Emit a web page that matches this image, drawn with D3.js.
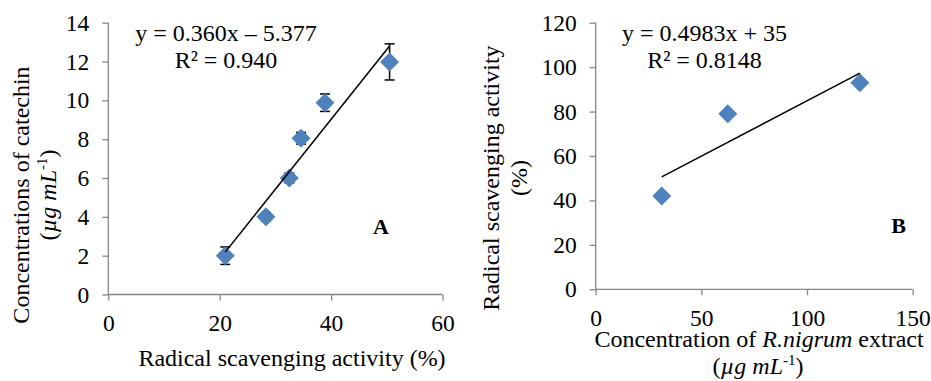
<!DOCTYPE html>
<html>
<head>
<meta charset="utf-8">
<script src="https://cdn.jsdelivr.net/npm/d3@7"></script>
<style>
  html, body { margin: 0; padding: 0; background: #fff; }
  svg { display: block; }
</style>
</head>
<body>
<svg id="chart" width="931" height="381"></svg>
<script>
// ---------- Data ----------
// Panel A: catechin standard
const catechinActivity = [21.0, 28.3, 32.5, 34.6, 38.9, 50.5];   // x: radical scavenging activity (%)
const catechinConc     = [2, 4, 6, 8.05, 9.88, 11.98];            // y: µg/mL
const catechinErr      = [0.45, 0.22, 0.25, 0.3, 0.45, 0.93];
const trendA = { slope: 0.360, intercept: -5.377 };
const trendAXRange = [21.0, 50.5];
const xTicksA = [0, 20, 40, 60];
const yTicksA = [0, 2, 4, 6, 8, 10, 12, 14];

// Panel B: R. nigrum extract
const extractConc     = [31.25, 62.5, 125];
const extractActivity = [42, 79, 93];
const trendB = { slope: 0.4983, intercept: 35 };
const trendBXRange = [31.25, 125];
const xTicksB = [0, 50, 100, 150];
const yTicksB = [0, 20, 40, 60, 80, 100, 120];

const blue = "#4F81BD";
const FONT = "'Liberation Serif'";
const FS = 24;       // titles and equations
const FS_TICK = 23.5;
const svg = d3.select("#chart");

function diamond(g, x, y, half) {
  g.append("path")
    .attr("d", `M${x},${y - half}L${x + half},${y}L${x},${y + half}L${x - half},${y}Z`)
    .attr("fill", blue);
}

function drawAxes(x, y, xt, yt) {
  const gx = svg.append("g")
    .attr("transform", `translate(0,${y.range()[0]})`)
    .call(d3.axisBottom(x).tickValues(xt).tickSize(6).tickSizeOuter(0).tickPadding(14).tickFormat(d3.format("d")));
  const gy = svg.append("g")
    .attr("transform", `translate(${x.range()[0]},0)`)
    .call(d3.axisLeft(y).tickValues(yt).tickSize(6).tickSizeOuter(0).tickPadding(13).tickFormat(d3.format("d")));
  gx.select(".domain").attr("d", `M${x.range()[0]},0H${x.range()[1]}`);
  gy.select(".domain").attr("d", `M0,${y.range()[0]}V${y.range()[1]}`);
  [gx, gy].forEach(g => {
    g.attr("font-family", null).attr("font-size", null);
    g.selectAll("path, line").attr("stroke", "#868686").attr("stroke-width", 1.3);
    g.selectAll("text").attr("fill", "#000").attr("font-size", FS_TICK);
  });
}

// ---------- Panel A ----------
const xA = d3.scaleLinear().domain([0, 60]).range([108.3, 442.5]);
const yA = d3.scaleLinear().domain([0, 14]).range([294.5, 22.7]);
drawAxes(xA, yA, xTicksA, yTicksA);

const gA = svg.append("g");
catechinActivity.forEach((v, i) => {
  const cx = xA(v);
  const top = yA(catechinConc[i] + catechinErr[i]);
  const bot = yA(catechinConc[i] - catechinErr[i]);
  gA.append("line").attr("x1", cx).attr("x2", cx).attr("y1", top).attr("y2", bot)
    .attr("stroke", "#000").attr("stroke-width", 1.5);
  [top, bot].forEach(yy => gA.append("line").attr("x1", cx - 5).attr("x2", cx + 5)
    .attr("y1", yy).attr("y2", yy).attr("stroke", "#000").attr("stroke-width", 1.5));
});
catechinActivity.forEach((v, i) => diamond(gA, xA(v), yA(catechinConc[i]), 9.5));
gA.append("line")
  .attr("x1", xA(trendAXRange[0])).attr("y1", yA(trendA.slope * trendAXRange[0] + trendA.intercept))
  .attr("x2", xA(trendAXRange[1])).attr("y2", yA(trendA.slope * trendAXRange[1] + trendA.intercept))
  .attr("stroke", "#000").attr("stroke-width", 1.5);

const tA = svg.append("g");
tA.append("text").attr("x", 226).attr("y", 40.5).attr("text-anchor", "middle").text("y = 0.360x – 5.377");
tA.append("text").attr("x", 226).attr("y", 68.3).attr("text-anchor", "middle").text("R² = 0.940");
tA.append("text").attr("x", 381).attr("y", 234).attr("text-anchor", "middle")
  .attr("font-weight", "bold").attr("font-size", 22).text("A");
tA.append("text").attr("x", 292).attr("y", 366).attr("text-anchor", "middle").text("Radical scavenging activity (%)");
const ylA = tA.append("g").attr("transform", "translate(29,195) rotate(-90)");
ylA.append("text").attr("text-anchor", "middle").text("Concentrations of catechin");
const ylA2 = ylA.append("text").attr("y", 26.5).attr("text-anchor", "middle");
ylA2.append("tspan").text("(");
ylA2.append("tspan").attr("font-style", "italic").text("µg mL");
ylA2.append("tspan").attr("font-size", 15).attr("dy", -9).text("-1");
ylA2.append("tspan").attr("dy", 9).text(")");

// ---------- Panel B ----------
const xB = d3.scaleLinear().domain([0, 150]).range([595.7, 912.7]);
const yB = d3.scaleLinear().domain([0, 120]).range([289.3, 22.7]);
drawAxes(xB, yB, xTicksB, yTicksB);

const gB = svg.append("g");
extractConc.forEach((v, i) => diamond(gB, xB(v), yB(extractActivity[i]), 9.5));
gB.append("line")
  .attr("x1", xB(trendBXRange[0])).attr("y1", yB(trendB.slope * trendBXRange[0] + trendB.intercept))
  .attr("x2", xB(trendBXRange[1])).attr("y2", yB(trendB.slope * trendBXRange[1] + trendB.intercept))
  .attr("stroke", "#000").attr("stroke-width", 1.5);

const tB = svg.append("g");
tB.append("text").attr("x", 704.5).attr("y", 40.5).attr("text-anchor", "middle").text("y = 0.4983x + 35");
tB.append("text").attr("x", 704.5).attr("y", 68.3).attr("text-anchor", "middle").text("R² = 0.8148");
tB.append("text").attr("x", 898.7).attr("y", 233).attr("text-anchor", "middle")
  .attr("font-weight", "bold").attr("font-size", 22).text("B");
const xlB = tB.append("text").attr("x", 759).attr("y", 347).attr("text-anchor", "middle");
xlB.append("tspan").text("Concentration of ");
xlB.append("tspan").attr("font-style", "italic").text("R.nigrum");
xlB.append("tspan").text(" extract");
const xlB2 = tB.append("text").attr("x", 758).attr("y", 374).attr("text-anchor", "middle");
xlB2.append("tspan").text("(");
xlB2.append("tspan").attr("font-style", "italic").text("µg mL");
xlB2.append("tspan").attr("font-size", 15).attr("dy", -9).text("-1");
xlB2.append("tspan").attr("dy", 9).text(")");
const ylB = tB.append("g").attr("transform", "translate(499,178) rotate(-90)");
ylB.append("text").attr("text-anchor", "middle").text("Radical scavenging activity");
ylB.append("text").attr("y", 28).attr("text-anchor", "middle").text("(%)");

svg.selectAll("text").each(function () {
  const t = d3.select(this);
  if (!t.attr("font-size")) t.attr("font-size", FS);
  t.attr("fill", "#000").style("font-family", FONT);
});
</script>
</body>
</html>
